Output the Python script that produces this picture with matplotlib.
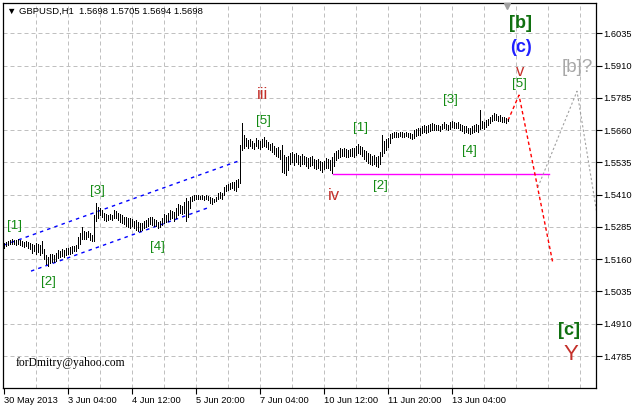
import numpy as np
import matplotlib.pyplot as plt

# hourly bar highs / lows, in pips (15235 -> 1.5235)
highs = [15222, 15228, 15232, 15236, 15238, 15236, 15235, 15238, 15234, 15232,
         15228, 15230, 15226, 15222, 15220, 15215, 15222, 15218, 15214, 15230,
         15200, 15175, 15168, 15180, 15182, 15178, 15185, 15196, 15192, 15198,
         15195, 15205, 15202, 15208, 15212, 15210, 15215, 15245, 15262, 15285,
         15270, 15265, 15268, 15262, 15255, 15330, 15377, 15362, 15360, 15352,
         15340, 15335, 15332, 15336, 15332, 15350, 15345, 15338, 15335, 15330,
         15325, 15322, 15318, 15320, 15315, 15310, 15312, 15305, 15300, 15302,
         15308, 15312, 15318, 15325, 15322, 15315, 15312, 15305, 15310, 15320,
         15335, 15330, 15340, 15350, 15345, 15342, 15358, 15375, 15370, 15368,
         15380, 15398, 15385, 15400, 15405, 15410, 15408, 15410, 15407, 15408,
         15406, 15408, 15405, 15400, 15396, 15395, 15400, 15418, 15420, 15415,
         15440, 15446, 15452, 15455, 15460, 15458, 15468, 15470, 15602, 15687,
         15640, 15628, 15622, 15625, 15618, 15612, 15630, 15622, 15618, 15625,
         15632, 15622, 15615, 15608, 15610, 15598, 15590, 15595, 15585, 15602,
         15565, 15555, 15560, 15570, 15575, 15568, 15572, 15565, 15560, 15568,
         15562, 15555, 15552, 15558, 15560, 15550, 15545, 15548, 15540, 15535,
         15542, 15552, 15550, 15545, 15555, 15570, 15580, 15585, 15590, 15588,
         15590, 15586, 15582, 15588, 15592, 15590, 15598, 15605, 15600, 15595,
         15585, 15578, 15570, 15568, 15560, 15565, 15555, 15560, 15575, 15640,
         15620, 15625, 15630, 15645, 15650, 15655, 15652, 15650, 15655, 15652,
         15650, 15654, 15650, 15648, 15645, 15660, 15665, 15670, 15668, 15675,
         15680, 15676, 15682, 15685, 15688, 15684, 15680, 15682, 15678, 15684,
         15690, 15686, 15680, 15690, 15695, 15692, 15688, 15692, 15685, 15680,
         15675, 15678, 15670, 15668, 15675, 15680, 15685, 15682, 15737, 15695,
         15690, 15698, 15705, 15712, 15720, 15726, 15722, 15716, 15718, 15712,
         15710, 15708, 15705]
lows = [15203, 15210, 15215, 15218, 15220, 15219, 15217, 15220, 15215, 15212,
        15208, 15210, 15205, 15198, 15185, 15190, 15182, 15188, 15178, 15185,
        15160, 15140, 15133, 15145, 15150, 15148, 15155, 15165, 15168, 15172,
        15170, 15175, 15180, 15182, 15186, 15190, 15192, 15205, 15220, 15240,
        15238, 15240, 15245, 15236, 15230, 15232, 15310, 15320, 15330, 15325,
        15312, 15310, 15312, 15315, 15312, 15320, 15318, 15312, 15305, 15300,
        15298, 15290, 15285, 15282, 15288, 15280, 15275, 15270, 15268, 15272,
        15282, 15286, 15290, 15295, 15293, 15290, 15288, 15280, 15285, 15292,
        15300, 15305, 15310, 15315, 15318, 15310, 15320, 15330, 15340, 15335,
        15340, 15310, 15325, 15360, 15385, 15390, 15392, 15393, 15392, 15394,
        15390, 15392, 15388, 15378, 15375, 15380, 15384, 15395, 15398, 15395,
        15410, 15425, 15430, 15432, 15436, 15430, 15425, 15440, 15455, 15585,
        15590, 15598, 15590, 15600, 15592, 15588, 15598, 15590, 15586, 15595,
        15600, 15594, 15588, 15582, 15575, 15568, 15560, 15555, 15550, 15500,
        15495, 15486, 15505, 15530, 15535, 15525, 15535, 15530, 15522, 15530,
        15528, 15520, 15515, 15520, 15525, 15512, 15508, 15515, 15505, 15500,
        15510, 15515, 15512, 15505, 15493, 15520, 15545, 15552, 15558, 15560,
        15562, 15558, 15555, 15560, 15562, 15558, 15565, 15570, 15568, 15560,
        15550, 15540, 15532, 15530, 15525, 15528, 15520, 15517, 15530, 15560,
        15570, 15585, 15595, 15610, 15630, 15632, 15635, 15634, 15636, 15635,
        15633, 15636, 15632, 15628, 15625, 15630, 15638, 15642, 15640, 15648,
        15652, 15650, 15655, 15658, 15660, 15662, 15660, 15662, 15658, 15664,
        15668, 15665, 15660, 15665, 15672, 15670, 15668, 15670, 15662, 15656,
        15650, 15655, 15648, 15644, 15650, 15655, 15658, 15652, 15665, 15668,
        15666, 15672, 15680, 15688, 15695, 15700, 15698, 15695, 15694, 15692,
        15690, 15688, 15694]

time_labels = ['30 May 2013', '3 Jun 04:00', '4 Jun 12:00', '5 Jun 20:00',
               '7 Jun 04:00', '10 Jun 12:00', '11 Jun 20:00', '13 Jun 04:00']
price_ticks = [1.4785, 1.4910, 1.5035, 1.5160, 1.5285, 1.5410,
               1.5535, 1.5660, 1.5785, 1.5910, 1.6035]

# drawn objects: (bar index, price)
chan_up_x, chan_up_y = [0, 117], [1.5215, 1.5540]
chan_lo_x, chan_lo_y = [13.5, 101.5], [1.5114, 1.5358]
level_x, level_y = [164.5, 272.5], [1.5492, 1.5492]
proj_x, proj_y = [252, 257.5, 274.3], [1.5698, 1.5796, 1.5150]
alt_x, alt_y = [267, 286.5, 296.5], [1.5440, 1.5811, 1.5335]

GREEN = '#128a12'
RED = '#c4302a'
# wave marks: text, bar, price, colour, size, bold
waves = [
    ('[1]', 5.5, 1.5288, GREEN, 9.5, False),
    ('[2]', 22, 1.5071, GREEN, 9.5, False),
    ('[3]', 46.5, 1.5424, GREEN, 9.5, False),
    ('[4]', 76.5, 1.5207, GREEN, 9.5, False),
    ('[5]', 129.5, 1.5695, GREEN, 9.5, False),
    ('iii', 129.5, 1.5799, RED, 12, False),
    ('iv', 165, 1.5408, RED, 12, False),
    ('[1]', 178.5, 1.5668, GREEN, 9.5, False),
    ('[2]', 188, 1.5443, GREEN, 9.5, False),
    ('[3]', 223, 1.5776, GREEN, 9.5, False),
    ('[4]', 232.5, 1.5579, GREEN, 9.5, False),
    ('[5]', 257.5, 1.5838, GREEN, 9.5, False),
    ('v', 258, 1.5889, RED, 12, False),
    ('(c)', 258.5, 1.5982, '#2020ff', 13, True),
    ('[b]', 258, 1.6075, '#107010', 13, True),
    ('[b]?', 286.5, 1.5904, '#a8a8a8', 13.5, False),
    ('[c]', 282.5, 1.4885, '#107010', 13, True),
    ('Y', 283.5, 1.4792, RED, 16, False),
]

plt.rcParams['font.family'] = ['Liberation Sans', 'DejaVu Sans']

fig = plt.figure(figsize=(6.33, 4.05), dpi=100)
ax = fig.add_axes([3/633, 17/405, 593/633, 385/405])
ax.set_xlim(-0.5, 296)
ax.set_ylim(1.4661, 1.6153)

#grid
for g in range(16, 296, 16):
    ax.axvline(g, color='#c0c0c0', lw=0.72, ls=(0, (4, 3)), zorder=0)
for p in price_ticks:
    ax.axhline(p, color='#c0c0c0', lw=0.72, ls=(0, (4, 3)), zorder=0)

#bars
x = np.arange(len(highs))
ax.vlines(x, np.array(lows) / 1e4, np.array(highs) / 1e4, color='black',
          lw=0.72, antialiased=False, zorder=3)

#lines
ax.plot(chan_up_x, chan_up_y, color='#0000ff', lw=1.0, ls=(0, (2.5, 3)), zorder=2)
ax.plot(chan_lo_x, chan_lo_y, color='#0000ff', lw=1.0, ls=(0, (2.5, 3)), zorder=2)
ax.plot(level_x, level_y, color='#ff00ff', lw=1.0, zorder=2)
ax.plot(proj_x, proj_y, color='#ff0000', lw=1.0, ls=(0, (2.5, 2)), zorder=2)
ax.plot(alt_x, alt_y, color='#a0a0a0', lw=0.8, ls=(0, (2, 2)), zorder=2)

for txt, bx, by, col, sz, bold in waves:
    ax.text(bx, by, txt, color=col, fontsize=sz, ha='center', va='center',
            fontweight='bold' if bold else 'normal', zorder=4)

# chart shift marker
ax.plot([251.5], [1.6142], marker='v', color='#a0a0a0', markersize=5, clip_on=False, zorder=5)

ax.text(12/593*296, 1.4757, 'forDmitry@yahoo.com', family='Liberation Serif',
        fontsize=8.4, color='black', va='center', ha='left')

fig.text(7/633, 1 - 11/405, '\u25bc GBPUSD,H1  1.5698 1.5705 1.5694 1.5698',
         fontsize=6.8, va='center', ha='left', family=['Liberation Sans', 'DejaVu Sans'])

ax.set_xticks(np.arange(0, 225, 32))
ax.set_xticklabels(time_labels, ha='left')
ax.tick_params(axis='x', length=4, width=0.8, pad=1.5, labelsize=6.7)
ax.yaxis.tick_right()
ax.set_yticks(price_ticks)
ax.set_yticklabels(['%.4f' % p for p in price_ticks])
ax.tick_params(axis='y', length=4, width=0.8, pad=1.5, labelsize=6.7)
for s in ax.spines.values():
    s.set_linewidth(0.9)

fig.savefig('out.png', dpi=100)
